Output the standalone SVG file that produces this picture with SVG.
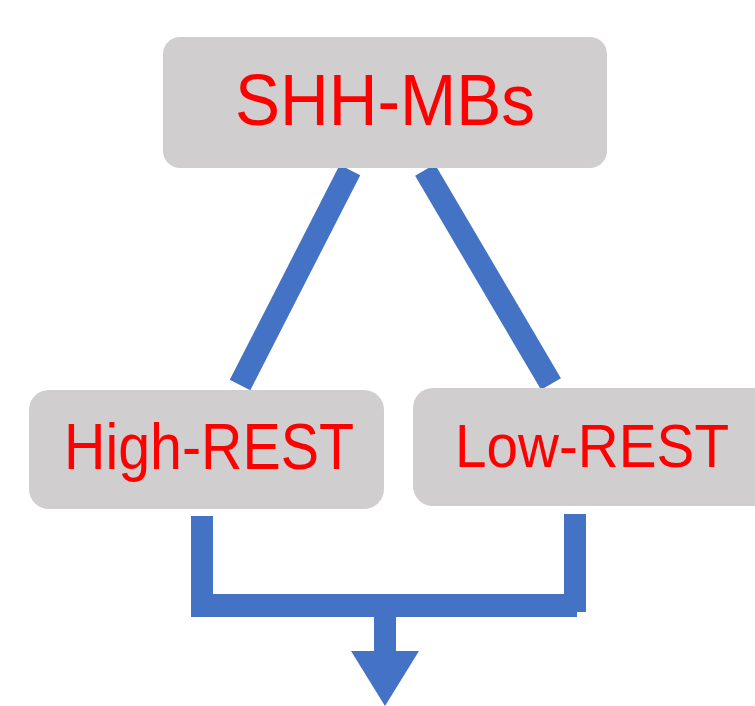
<svg xmlns="http://www.w3.org/2000/svg" width="755" height="706" viewBox="0 0 755 706">
<style>
.box{fill:#D0CECE;}
.lbl{fill:#FF0000;font-family:"Liberation Sans","Open Sans",Arial,sans-serif;}
.line{stroke:#4472C4;stroke-width:23;fill:none;stroke-linecap:butt;}
.fill{fill:#4472C4;}
</style>
<rect width="755" height="706" fill="#FFFFFF"/>
<g id="connectors">
<line class="line" x1="350" y1="170" x2="240" y2="385"/>
<line class="line" x1="425" y1="170" x2="551" y2="384"/>
<rect class="fill" x="191" y="516" width="22" height="100"/>
<rect class="fill" x="564" y="514" width="22" height="98"/>
<rect class="fill" x="191" y="594" width="386" height="23"/>
<rect class="fill" x="374" y="606" width="22" height="46"/>
<polygon class="fill" points="351,651 419,651 385,706"/>
</g>
<g id="node-shh">
<rect class="box" x="163" y="37" width="444" height="131" rx="17" ry="17"/>
<text class="lbl" x="235" y="125" font-size="72" textLength="300" lengthAdjust="spacingAndGlyphs">SHH-MBs</text>
</g>
<g id="node-high">
<rect class="box" x="29" y="390" width="355" height="119" rx="20" ry="20"/>
<text class="lbl" x="64" y="469" font-size="64" textLength="290" lengthAdjust="spacingAndGlyphs">High-REST</text>
</g>
<g id="node-low">
<rect class="box" x="413" y="388" width="360" height="118" rx="20" ry="20"/>
<text class="lbl" x="455" y="467" font-size="61" textLength="274" lengthAdjust="spacingAndGlyphs">Low-REST</text>
</g>
</svg>
